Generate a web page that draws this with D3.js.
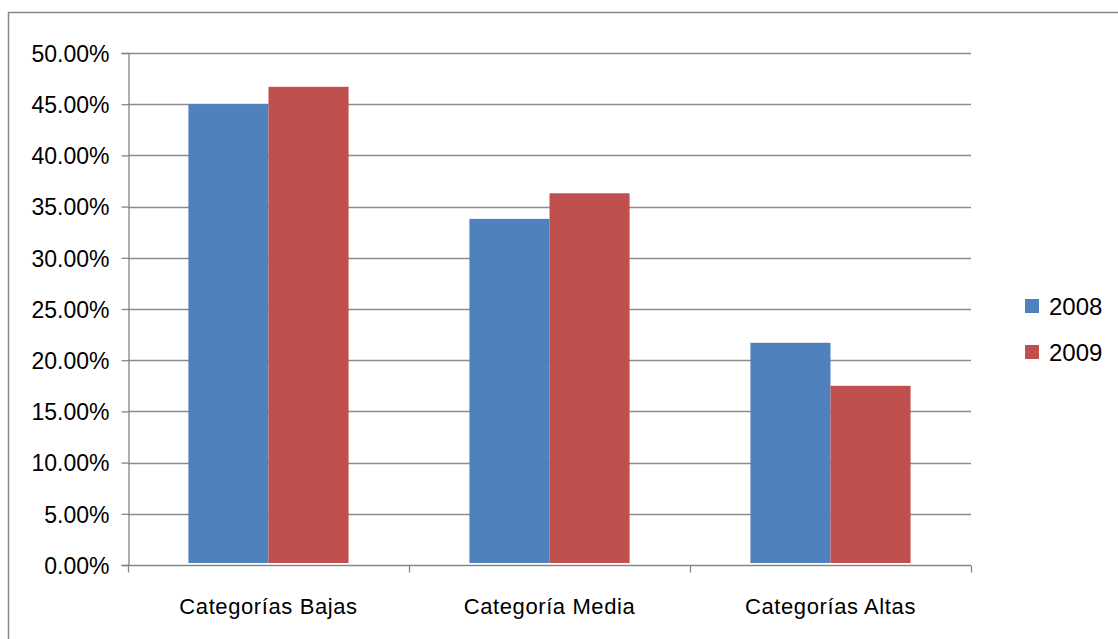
<!DOCTYPE html>
<html><head><meta charset="utf-8">
<script src="https://cdn.jsdelivr.net/npm/d3@7"></script>
<style>body{margin:0;background:#fff}svg{display:block}text{font-family:"Liberation Sans",Arial,sans-serif;fill:#000}</style>
</head><body><svg id="c" width="1118" height="639"></svg>
<script>
const categories = ["Categorías Bajas", "Categoría Media", "Categorías Altas"];
const seriesNames = ["2008", "2009"];
const values2008 = [0.450, 0.338, 0.217];
const values2009 = [0.467, 0.363, 0.175];
const yTicks = [0, 0.05, 0.10, 0.15, 0.20, 0.25, 0.30, 0.35, 0.40, 0.45, 0.50];
const colors = ["#4F81BD", "#C0504D"];

const svg = d3.select("#c");
const W = 1118, H = 639;
const m = {left: 128, right: 971, top: 53, bottom: 565};

// chart frame
svg.append("rect").attr("x", 8.5).attr("y", 12.5).attr("width", W + 10).attr("height", H + 10)
  .attr("fill", "#fff").attr("stroke", "#868686").attr("stroke-width", 1.5);

const x = d3.scaleBand().domain(categories).range([m.left, m.right]).paddingInner(0.43).paddingOuter(0.215);
const xs = d3.scaleBand().domain(seriesNames).range([0, x.bandwidth()]);
const y = d3.scaleLinear().domain([0, 0.5]).range([m.bottom, m.top]);

// gridlines
svg.append("g").selectAll("line").data(yTicks.slice(1)).join("line")
  .attr("x1", m.left).attr("x2", m.right)
  .attr("y1", d => Math.round(y(d)) + 0.5).attr("y2", d => Math.round(y(d)) + 0.5)
  .attr("stroke", "#8c8c8c").attr("stroke-width", 1.3);

// bars
const data = categories.map((c, i) => ({c, v: [values2008[i], values2009[i]]}));
const g = svg.append("g").selectAll("g").data(data).join("g")
  .attr("transform", d => `translate(${x(d.c)},0)`);
g.selectAll("rect").data(d => d.v.map((v, j) => ({s: seriesNames[j], v, j}))).join("rect")
  .attr("x", d => xs(d.s)).attr("width", xs.bandwidth())
  .attr("y", d => y(d.v)).attr("height", d => y(0) - y(d.v) - 2)
  .attr("fill", d => colors[d.j]);

// y axis
const yAxis = d3.axisLeft(y).tickValues(yTicks).tickSize(7).tickPadding(12)
  .tickFormat(d => (d * 100).toFixed(2) + "%");
const ya = svg.append("g").attr("transform", `translate(${m.left + 0.5},0)`).call(yAxis);
ya.select(".domain").attr("stroke", "#868686").attr("stroke-width", 1.3);
ya.selectAll(".tick line").attr("stroke", "#868686").attr("stroke-width", 1.3);
ya.selectAll(".tick text").style("font-size", "23px").attr("dy", "0.36em").attr("fill", "#000");

// x axis
const xa = svg.append("g").attr("transform", `translate(0,${m.bottom + 0.5})`);
xa.append("line").attr("x1", m.left).attr("x2", m.right).attr("stroke", "#868686").attr("stroke-width", 1.3);
const bounds = categories.map(c => x(c) - x.step() * x.paddingInner() / 2).concat([m.right]);
bounds[0] = m.left;
xa.selectAll("line.t").data(bounds).join("line").attr("class", "t")
  .attr("x1", d => Math.round(d) + 0.5).attr("x2", d => Math.round(d) + 0.5).attr("y1", 0).attr("y2", 7)
  .attr("stroke", "#868686").attr("stroke-width", 1.3);
xa.selectAll("text").data(categories).join("text")
  .attr("x", d => x(d) + x.bandwidth() / 2).attr("y", 48)
  .attr("text-anchor", "middle").style("font-size", "22px").style("letter-spacing", "0.6px").text(d => d);

// legend
const lg = svg.append("g").selectAll("g").data(seriesNames).join("g")
  .attr("transform", (d, i) => `translate(1025,${299 + i * 46})`);
lg.append("rect").attr("width", 14).attr("height", 14).attr("fill", (d, i) => colors[i]);
lg.append("text").attr("x", 24).attr("y", 16).style("font-size", "24px").text(d => d);
</script></body></html>
